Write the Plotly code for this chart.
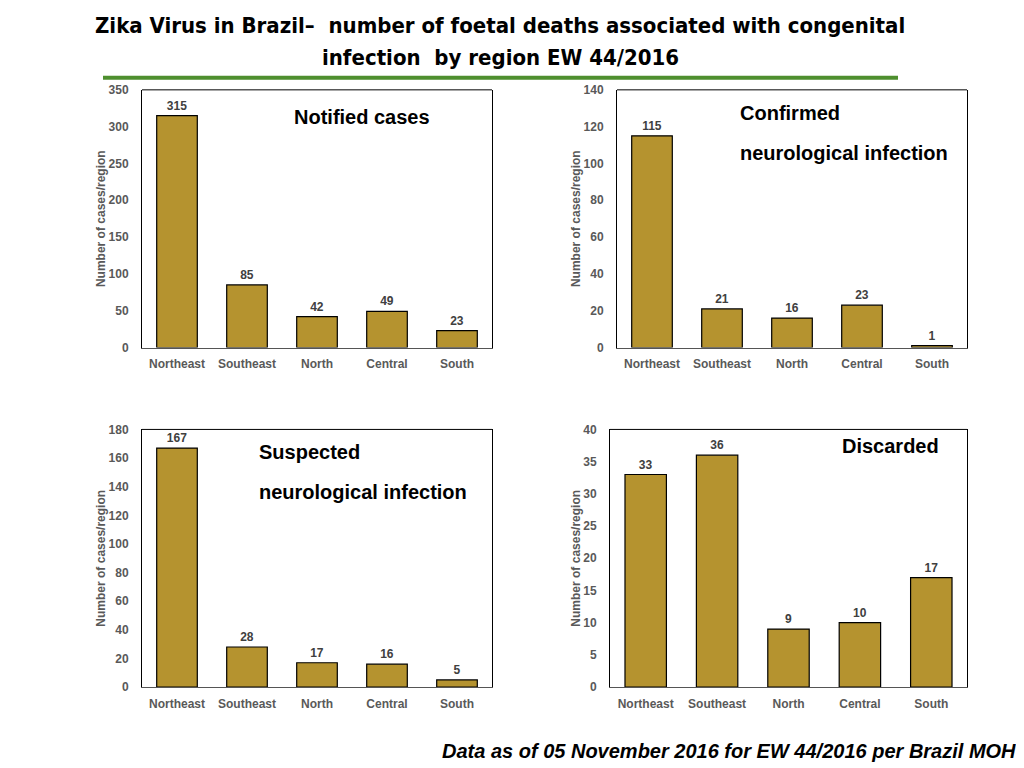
import plotly.graph_objects as go

regions = ['Northeast', 'Southeast', 'North', 'Central', 'South']
notified = [315, 85, 42, 49, 23]
confirmed = [115, 21, 16, 23, 1]
suspected = [167, 28, 17, 16, 5]
discarded = [33, 36, 9, 10, 17]

bar_color = '#B5932F'
grey = '#595959'

# the figure lands 8px in from the left, and the snapshot squeezes it a little
# vertically, so screen pixels are mapped back to figure fractions here
OFF_X = 8
W, H = 1008, 768
SY, TY = 0.983, 14.3

def px(x):
    return (x - OFF_X) / W

def py(y):
    return 1 - (y / SY - TY) / H

# panel boxes in screen pixels: left, right, top, bottom
panels = [
    (notified, 350, 50, (142, 492, 89, 347)),
    (confirmed, 140, 20, (617, 967, 89, 347)),
    (suspected, 180, 20, (142, 492, 429, 687)),
    (discarded, 40, 5, (610, 967, 429, 687)),
]

tick_font = dict(family='Liberation Sans', size=12, color=grey, weight='bold')

fig = go.Figure()
shapes = []
for i, (vals, ymax, dt, (l, r, t, b)) in enumerate(panels):
    n = '' if i == 0 else str(i + 1)
    fig.add_trace(go.Bar(
        x=regions, y=vals, xaxis='x' + n, yaxis='y' + n,
        marker=dict(color=bar_color, line=dict(color='black', width=1.2)),
        text=vals, textposition='outside', cliponaxis=False,
        textfont=dict(family='Liberation Sans', size=12, color='#404040', weight='bold'),
        showlegend=False))
    fig.update_layout(**{
        'xaxis' + n: dict(domain=[px(l), px(r)], anchor='y' + n, showline=True,
                          linecolor='#555555', linewidth=1, ticks='',
                          ticklabelstandoff=5, tickfont=tick_font),
        'yaxis' + n: dict(domain=[py(b), py(t)], anchor='x' + n, range=[0, ymax], dtick=dt,
                          showline=True, mirror=True, linecolor='black', linewidth=1,
                          showgrid=False, zeroline=False, ticks='', ticklabelstandoff=10,
                          tickfont=tick_font,
                          title=dict(text='Number of cases/region', standoff=0,
                                     font=dict(family='Liberation Sans', size=12, color=grey,
                                               weight='bold'))),
    })
    shapes.append(dict(type='line', xref='paper', yref='paper', x0=px(l), x1=px(r),
                       y0=py(t), y1=py(t), line=dict(color='black', width=1)))

# green rule under the title
shapes.append(dict(type='line', xref='paper', yref='paper', x0=px(103), x1=px(898),
                   y0=py(77), y1=py(77), line=dict(color='#4E8F2E', width=4)))

title_font = dict(family='Liberation Sans Narrow, DejaVu Sans Condensed, Liberation Sans',
                  size=22, color='black', weight='bold')
label_font = dict(family='Liberation Sans', size=20, color='black', weight='bold')

annotations = [
    dict(text='Zika Virus in Brazil\u2013  number of foetal deaths associated with congenital',
         x=px(500), y=py(25), font=title_font),
    dict(text='infection  by region EW 44/2016', x=px(500), y=py(57), font=title_font),
    dict(text='Notified cases', x=px(362), y=py(116), font=label_font),
    dict(text='Confirmed', x=px(738), y=py(112), xanchor='left', font=label_font),
    dict(text='neurological infection', x=px(738), y=py(152), xanchor='left', font=label_font),
    dict(text='Suspected', x=px(257), y=py(452), xanchor='left', font=label_font),
    dict(text='neurological infection', x=px(257), y=py(492), xanchor='left', font=label_font),
    dict(text='Discarded', x=px(941), y=py(446), xanchor='right', font=label_font),
    dict(text='<i>Data as of 05 November 2016 for EW 44/2016 per Brazil MOH</i>',
         x=px(1018), y=py(751), xanchor='right',
         font=dict(family='Liberation Sans', size=20, color='black', weight='bold')),
]
for a in annotations:
    a.update(xref='paper', yref='paper', showarrow=False)
    a.setdefault('xanchor', 'center')
    a['yanchor'] = 'middle'

fig.update_layout(
    width=W, height=H, margin=dict(l=0, r=0, t=0, b=0),
    paper_bgcolor='white', plot_bgcolor='white',
    bargap=0.42, shapes=shapes, annotations=annotations)

fig.write_html('out.html')
